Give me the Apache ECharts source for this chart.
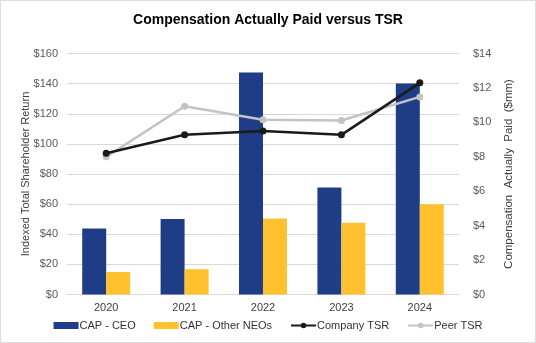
<!DOCTYPE html>
<html><head><meta charset="utf-8">
<script src="https://cdn.jsdelivr.net/npm/echarts@6/dist/echarts.min.js"></script>
<style>
html,body{margin:0;padding:0;background:#fff;}
#c{width:534px;height:341px;border:1px solid #dcdcdc;}
</style></head>
<body><div id="c"></div>
<script>
const categories = ['2020','2021','2022','2023','2024'];
const capCEO = [3.83, 4.38, 12.9, 6.21, 12.26];
const capOther = [1.31, 1.47, 4.41, 4.17, 5.24];
const companyTSR = [93.8, 106, 108.6, 106, 140.5];
const peerTSR = [91.4, 125, 116, 115.5, 131.2];
const leftTicks = {min:0, max:160, interval:20};
const rightTicks = {min:0, max:14, interval:2};

const font = 'Liberation Sans, Arial, sans-serif';
const chart = echarts.init(document.getElementById('c'), null, {renderer:'canvas'});
chart.setOption({
  animation:false,
  textStyle:{fontFamily:font},
  title:{text:'Compensation Actually Paid versus TSR', left:'center', top:7,
    textStyle:{fontSize:14, fontWeight:'bold', color:'#000', fontFamily:font}},
  grid:{left:66, right:76, top:52.5, bottom:47.5},
  legend:{bottom:6, left:'center', itemGap:18, itemWidth:25, itemHeight:7,
    textStyle:{fontSize:11, color:'#333', fontFamily:font, padding:[0,0,0,-4]},
    data:[{name:'CAP - CEO', icon:'rect'},{name:'CAP - Other NEOs', icon:'rect'},'Company TSR','Peer TSR']},
  xAxis:{type:'category', data:categories,
    axisLine:{show:true, lineStyle:{color:'#d9d9d9'}}, axisTick:{show:false},
    axisLabel:{fontSize:11, color:'#404040', margin:8}},
  yAxis:[
    {type:'value', min:leftTicks.min, max:leftTicks.max, interval:leftTicks.interval,
     name:'Indexed Total Shareholder Return', nameLocation:'middle', nameGap:36, nameMoveOverlap:false,
     nameTextStyle:{fontSize:11, color:'#404040'},
     axisLabel:{formatter:'${value}', fontSize:11, color:'#595959', margin:9},
     splitLine:{lineStyle:{color:'#d9d9d9'}}, axisLine:{show:false}, axisTick:{show:false}},
    {type:'value', min:rightTicks.min, max:rightTicks.max, interval:rightTicks.interval,
     name:'Compensation  Actually  Paid  ($mm)', nameLocation:'middle', nameGap:44, nameRotate:90, nameMoveOverlap:false,
     nameTextStyle:{fontSize:11.5, color:'#404040'},
     axisLabel:{formatter:'${value}', fontSize:11, color:'#595959', margin:14},
     splitLine:{show:false}, axisLine:{show:false}, axisTick:{show:false}}
  ],
  series:[
    {name:'CAP - CEO', type:'bar', yAxisIndex:1, data:capCEO, barWidth:24, barGap:'0%',
     itemStyle:{color:'#1F3D86'}},
    {name:'CAP - Other NEOs', type:'bar', yAxisIndex:1, data:capOther, barWidth:24, barGap:'0%',
     itemStyle:{color:'#FFC12E'}},
    {name:'Company TSR', type:'line', yAxisIndex:0, data:companyTSR, symbol:'circle', symbolSize:7,
     lineStyle:{color:'#1a1a1a', width:2.5}, itemStyle:{color:'#1a1a1a'}, z:5},
    {name:'Peer TSR', type:'line', yAxisIndex:0, data:peerTSR, symbol:'circle', symbolSize:7,
     lineStyle:{color:'#c3c3c3', width:2.5}, itemStyle:{color:'#c3c3c3'}, z:4}
  ]
});
</script></body></html>
